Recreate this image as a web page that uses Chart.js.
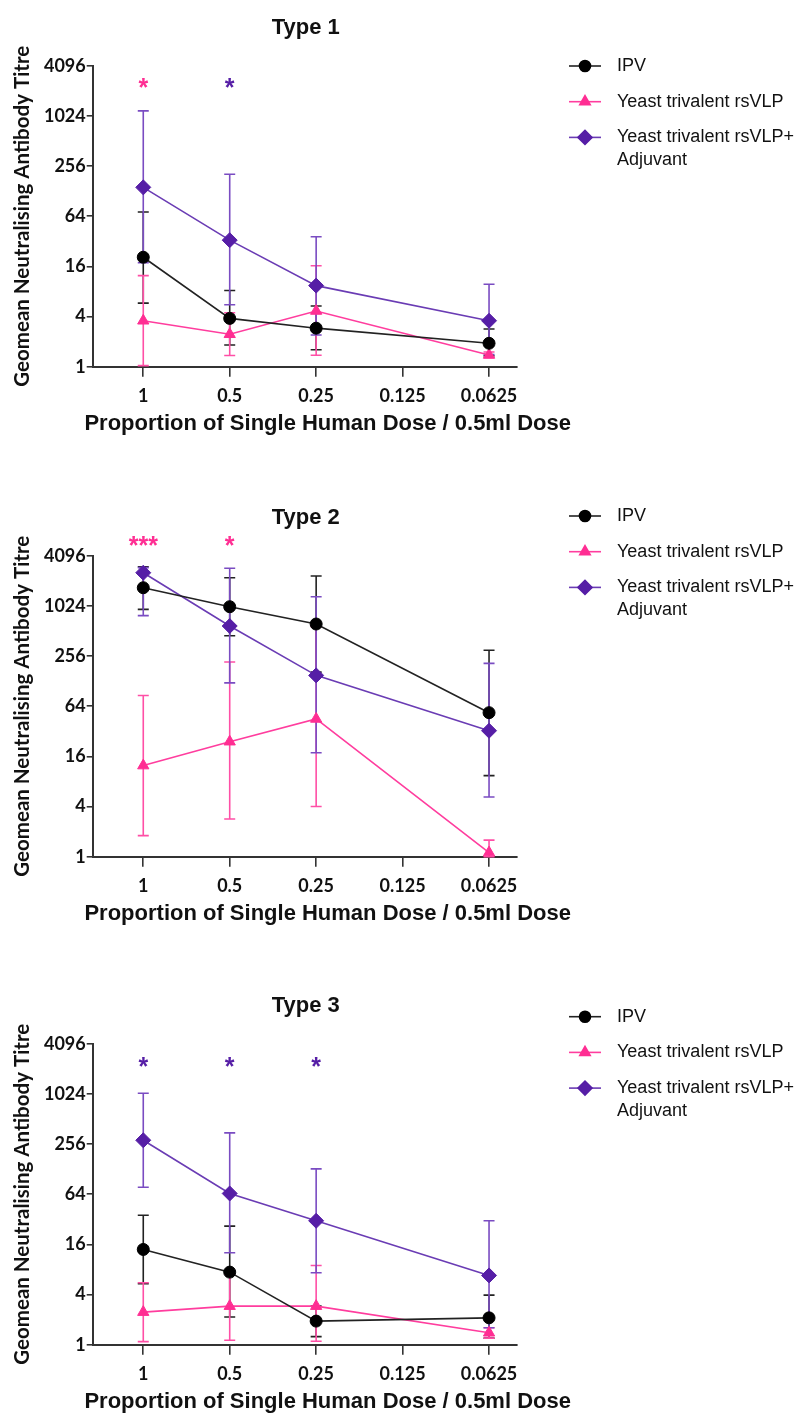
<!DOCTYPE html>
<html>
<head>
<meta charset="utf-8">
<script src="https://cdn.jsdelivr.net/npm/chart.js@4.4.1/dist/chart.umd.min.js"></script>
<style>
html, body { margin: 0; padding: 0; background: #fff; overflow: hidden; }
.panel { position: absolute; left: 0; }
</style>
</head>
<body>
<canvas id="type1" class="panel" width="798" height="440" style="top:0px"></canvas>
<canvas id="type2" class="panel" width="798" height="440" style="top:490px"></canvas>
<canvas id="type3" class="panel" width="798" height="440" style="top:978px"></canvas>
<script>
// tick labels / categories
const doseLabels = ['1', '0.5', '0.25', '0.125', '0.0625'];
const doseTicks = [0, 1, 2, 3, 4];
const doseMeasured = [0, 1, 2, 4];
const yTicks = [1, 4, 16, 64, 256, 1024, 4096];
const seriesNames = ['IPV', 'Yeast trivalent rsVLP', ['Yeast trivalent rsVLP+', 'Adjuvant']];
const xTitle = 'Proportion of Single Human Dose / 0.5ml Dose';
const yTitle = 'Geomean Neutralising Antibody Titre';

// Type 1
const type1IPV = [20.6, 3.8, 2.9, 1.91];
const type1IPVLow = [5.8, 1.82, 1.6, 1.35];
const type1IPVHigh = [72, 8.2, 5.35, 2.83];
const type1VLP = [3.56, 2.45, 4.66, 1.38];
const type1VLPLow = [1.03, 1.36, 1.37, 1.3];
const type1VLPHigh = [12.4, 4.45, 16.3, 1.5];
const type1Adj = [142, 33, 9.4, 3.56];
const type1AdjLow = [17.7, 5.55, 2.4, 1.4];
const type1AdjHigh = [1175, 204, 36.3, 9.75];
const type1Stars = ['*', '*'];
const type1StarDose = [0, 1];
const type1StarSeries = [1, 2];
const type1StarLevel = 2630;

// Type 2
const type2IPV = [1690, 1000, 620, 53.5];
const type2IPVLow = [930, 449, 164, 9.4];
const type2IPVHigh = [3020, 2230, 2340, 300];
const type2VLP = [12.4, 24, 45, 1.12];
const type2VLPLow = [1.79, 2.83, 4, 1];
const type2VLPHigh = [86, 217, 576, 1.58];
const type2Adj = [2560, 587, 150, 32.5];
const type2AdjLow = [781, 122, 17.7, 5.2];
const type2AdjHigh = [2950, 2890, 1320, 209];
const type2Stars = ['***', '*'];
const type2StarDose = [0, 1];
const type2StarSeries = [1, 1];
const type2StarLevel = 6300;

// Type 3
const type3IPV = [13.9, 7.43, 1.92, 2.1];
const type3IPVLow = [5.4, 2.15, 1.25, 1.2];
const type3IPVHigh = [35.8, 26.5, 2.9, 3.94];
const type3VLP = [2.46, 2.9, 2.9, 1.39];
const type3VLPLow = [1.09, 1.13, 1.1, 1.2];
const type3VLPHigh = [5.54, 7, 8.94, 1.6];
const type3Adj = [284, 65.3, 30.7, 6.78];
const type3AdjLow = [77.7, 12.7, 7.3, 1.6];
const type3AdjHigh = [1040, 348, 129, 30.7];
const type3Stars = ['*', '*', '*'];
const type3StarDose = [0, 1, 2];
const type3StarSeries = [2, 2, 2];
const type3StarLevel = 2590;

const styles = [
    { line: '#222222', fill: '#000000', err: '#222222', point: 'circle', radius: 6 },
    { line: '#ff3d9e', fill: '#ff2e93', err: '#ff4fa6', point: 'triangle', radius: 6.5 },
    { line: '#6a3cb4', fill: '#561ea6', err: '#7a4cc2', point: 'rectRot', radius: 7.5 }
];

const panelDecor = {
    id: 'panelDecor',
    beforeDatasetsDraw(chart) {
        const ctx = chart.ctx, xs = chart.scales.x, ys = chart.scales.y;
        chart.data.datasets.forEach(ds => {
            ctx.save();
            ctx.strokeStyle = ds.errColor;
            ctx.lineWidth = 1.6;
            ds.data.forEach((p, j) => {
                const px = xs.getPixelForValue(p.x);
                const top = ys.getPixelForValue(ds.errHigh[j]);
                const bot = ys.getPixelForValue(ds.errLow[j]);
                ctx.beginPath();
                ctx.moveTo(px, top); ctx.lineTo(px, bot);
                ctx.moveTo(px - 5.5, top); ctx.lineTo(px + 5.5, top);
                ctx.moveTo(px - 5.5, bot); ctx.lineTo(px + 5.5, bot);
                ctx.stroke();
            });
            ctx.restore();
        });
    },
    afterDraw(chart, args, opts) {
        const ctx = chart.ctx, area = chart.chartArea, xs = chart.scales.x, ys = chart.scales.y;
        const mid = (area.left + area.right) / 2;
        ctx.save();
        // panel title and x axis title (drawn here so the long title is not squeezed)
        ctx.fillStyle = '#111';
        ctx.font = 'bold 22px "Liberation Sans", Arial, sans-serif';
        ctx.textAlign = 'center';
        ctx.textBaseline = 'middle';
        ctx.fillText(opts.title, mid + 1, area.top - 38);
        ctx.fillText(xTitle, mid + 23, area.bottom + 57.5);

        // significance stars
        ctx.font = 'bold 25px "Liberation Sans", Arial, sans-serif';
        ctx.textBaseline = 'alphabetic';
        opts.stars.forEach((s, i) => {
            ctx.fillStyle = styles[opts.starSeries[i]].fill;
            const px = xs.getPixelForValue(opts.starDose[i]);
            const py = ys.getPixelForValue(opts.starLevel) + 0.57 * 25;
            ctx.fillText(s, px, py);
        });

        // legend
        ctx.font = '18px "Liberation Sans", Arial, sans-serif';
        ctx.textAlign = 'left';
        ctx.textBaseline = 'middle';
        let y = opts.legendTop;
        chart.data.datasets.forEach((ds, i) => {
            const st = styles[i];
            ctx.strokeStyle = st.line;
            ctx.lineWidth = 1.6;
            ctx.beginPath(); ctx.moveTo(569, y); ctx.lineTo(601, y); ctx.stroke();
            ctx.fillStyle = st.fill;
            ctx.strokeStyle = st.fill;
            Chart.helpers.drawPoint(ctx, { pointStyle: st.point, radius: st.radius - 0.5, rotation: 0, borderWidth: 1 }, 585, y);
            ctx.fillStyle = '#111';
            const lines = Array.isArray(seriesNames[i]) ? seriesNames[i] : [seriesNames[i]];
            lines.forEach((t, k) => ctx.fillText(t, 617, y + k * 22.7));
            y += 35.7;
        });
        ctx.restore();
    }
};

function makeSeries(i, vals, low, high) {
    const st = styles[i];
    return {
        label: Array.isArray(seriesNames[i]) ? seriesNames[i].join(' ') : seriesNames[i],
        data: vals.map((v, j) => ({ x: doseMeasured[j], y: v })),
        borderColor: st.line,
        backgroundColor: st.fill,
        pointBackgroundColor: st.fill,
        pointBorderColor: st.fill,
        pointStyle: st.point,
        pointRadius: st.radius,
        pointBorderWidth: 1,
        borderWidth: 1.6,
        tension: 0,
        clip: false,
        errLow: low,
        errHigh: high,
        errColor: st.err
    };
}

function makePanel(id, title, series, stars, starDose, starSeries, starLevel, legendTop) {
    const tickFont = { family: 'Lato', weight: 'bold', size: 18 };
    return new Chart(document.getElementById(id), {
        type: 'line',
        data: { datasets: series },
        plugins: [panelDecor],
        options: {
            responsive: false,
            animation: false,
            devicePixelRatio: 1,
            layout: { padding: { top: 65.7, right: 281.3, left: 0, bottom: 0 } },
            plugins: {
                legend: { display: false },
                tooltip: { enabled: false },
                panelDecor: { title: title, stars: stars, starDose: starDose, starSeries: starSeries, starLevel: starLevel, legendTop: legendTop }
            },
            scales: {
                x: {
                    type: 'linear', min: -0.585, max: 4.32,
                    afterBuildTicks: s => { s.ticks = doseTicks.map(v => ({ value: v })); },
                    afterFit: s => { s.height = 440 - 366.7; },
                    ticks: { callback: v => doseLabels[v], font: tickFont, color: '#111', padding: 9, maxRotation: 0, autoSkip: false },
                    grid: { drawOnChartArea: false, drawTicks: true, tickLength: 10, color: '#333', lineWidth: 1.6 },
                    border: { display: true, color: '#333', width: 2 }
                },
                y: {
                    type: 'logarithmic', min: 1, max: 4096,
                    afterBuildTicks: s => { s.ticks = yTicks.map(v => ({ value: v })); },
                    afterFit: s => { s.width = 92.7; },
                    ticks: { callback: v => String(v), font: tickFont, color: '#111', padding: 1, autoSkip: false },
                    grid: { drawOnChartArea: false, drawTicks: true, tickLength: 6, color: '#333', lineWidth: 1.6 },
                    border: { display: true, color: '#333', width: 2 },
                    title: { display: true, text: yTitle, color: '#111', font: { family: 'Lato', weight: 'bold', size: 20.5 }, padding: { top: 10, bottom: 0 } }
                }
            }
        }
    });
}

makePanel('type1', 'Type 1', [
    makeSeries(0, type1IPV, type1IPVLow, type1IPVHigh),
    makeSeries(1, type1VLP, type1VLPLow, type1VLPHigh),
    makeSeries(2, type1Adj, type1AdjLow, type1AdjHigh)
], type1Stars, type1StarDose, type1StarSeries, type1StarLevel, 66);

makePanel('type2', 'Type 2', [
    makeSeries(0, type2IPV, type2IPVLow, type2IPVHigh),
    makeSeries(1, type2VLP, type2VLPLow, type2VLPHigh),
    makeSeries(2, type2Adj, type2AdjLow, type2AdjHigh)
], type2Stars, type2StarDose, type2StarSeries, type2StarLevel, 26);

makePanel('type3', 'Type 3', [
    makeSeries(0, type3IPV, type3IPVLow, type3IPVHigh),
    makeSeries(1, type3VLP, type3VLPLow, type3VLPHigh),
    makeSeries(2, type3Adj, type3AdjLow, type3AdjHigh)
], type3Stars, type3StarDose, type3StarSeries, type3StarLevel, 38.7);
</script>
</body>
</html>
